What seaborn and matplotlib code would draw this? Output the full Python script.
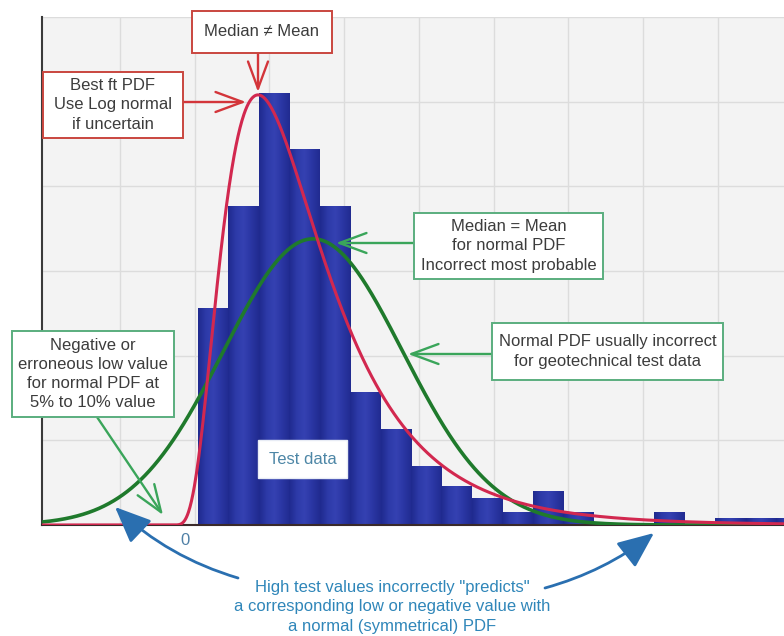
import numpy as np
import pandas as pd
import matplotlib
matplotlib.use("Agg")
import matplotlib.pyplot as plt
from matplotlib.patches import Rectangle
from matplotlib.colors import LinearSegmentedColormap
import seaborn as sns

# ---- Test data histogram (bin heights in grid units) ----
bin_start = 0.174
bin_width = 0.407
bar_heights = [2.56, 3.76, 5.10, 4.43, 3.76, 1.57, 1.13, 0.69, 0.46, 0.31,
               0.15, 0.39, 0.15, 0.0, 0.0, 0.15, 0.0, 0.08, 0.08, 0.08]

# ---- Fitted probability density functions ----
lognorm_loc = -0.227        # shift of the log-normal
lognorm_mode_offset = 1.204 # mode measured from the shift
lognorm_shape = 0.56
lognorm_peak = 5.08

normal_mean = 1.712
normal_sd = 1.2
normal_peak = 3.38

x_ticks = [0]
x_tick_labels = ["0"]

# ---- Styling ----
sns.set_style("white")
plt.rcParams["font.family"] = ["Liberation Sans", "DejaVu Sans"]

W, H = 784, 636
fig = plt.figure(figsize=(W / 100, H / 100), dpi=100)
ax = fig.add_axes([42 / W, (H - 525) / H, (784 - 42) / W, (525 - 17) / H])
ax.set_facecolor("#f3f3f3")
XMIN, XMAX = -1.913, 8.013
YMIN, YMAX = 0, 6


def P(px, py):
    """Pixel position (origin top-left) to figure fraction."""
    return (px / W, 1 - py / H)


# histogram bars
edges = [bin_start + bin_width * i for i in range(len(bar_heights) + 1)]
hist_df = pd.DataFrame({
    "value": [(a + b) / 2 for a, b in zip(edges[:-1], edges[1:])],
    "height": bar_heights,
})
sns.histplot(data=hist_df, x="value", weights="height", bins=edges,
             stat="count", color="#2a37a2", alpha=1, linewidth=0, ax=ax, zorder=2)

# cylinder-like shading on each bar
bar_cmap = LinearSegmentedColormap.from_list(
    "bar", ["#1f2a8e", "#2d3aa8", "#3541b2", "#2a36a3", "#212b90"])
grad = np.linspace(0, 1, 64).reshape(1, -1)
for patch in list(ax.patches):
    x, w, h = patch.get_x(), patch.get_width(), patch.get_height()
    if h <= 0:
        continue
    ax.imshow(grad, extent=[x, x + w, 0, h], cmap=bar_cmap, aspect="auto",
              interpolation="bicubic", zorder=2.1)

# fitted curves
xs = np.linspace(XMIN, XMAX, 1500)


def lognormal_curve(x):
    u = np.clip(x - lognorm_loc, 1e-9, None)
    mu = np.log(lognorm_mode_offset) + lognorm_shape ** 2
    s = lognorm_shape

    def pdf(v):
        return np.exp(-(np.log(v) - mu) ** 2 / (2 * s ** 2)) / (v * s * np.sqrt(2 * np.pi))

    y = pdf(u) / pdf(lognorm_mode_offset) * lognorm_peak
    y[x <= lognorm_loc] = 0
    return y


def normal_curve(x):
    return normal_peak * np.exp(-(x - normal_mean) ** 2 / (2 * normal_sd ** 2))


sns.lineplot(x=xs, y=normal_curve(xs), color="#1f7a2c", lw=2.6,
             estimator=None, sort=False, ax=ax, zorder=4)
sns.lineplot(x=xs, y=lognormal_curve(xs), color="#d2284f", lw=2.2,
             estimator=None, sort=False, ax=ax, zorder=5)

# axes, grid
ax.set_xlim(XMIN, XMAX)
ax.set_ylim(YMIN, YMAX)
ax.set_xticks(x_ticks)
ax.set_xticklabels(x_tick_labels)
ax.set_xticks(np.arange(-0.87, XMAX, 1.0), minor=True)
ax.set_yticks(np.arange(0, 7, 1))
ax.set_yticklabels([])
ax.tick_params(axis="both", which="both", length=0)
ax.tick_params(axis="x", which="major", pad=6, labelsize=12, labelcolor="#4f80a6")
ax.grid(False)
ax.grid(True, which="minor", axis="x", color="#dcdcdc", lw=1, zorder=0)
ax.grid(True, which="major", axis="y", color="#dcdcdc", lw=1, zorder=0)
ax.set_axisbelow(True)
ax.set_xlabel("")
ax.set_ylabel("")
for side in ["top", "right"]:
    ax.spines[side].set_visible(False)
ax.spines["left"].set_color("#3a3a3a")
ax.spines["left"].set_linewidth(1.5)
ax.spines["bottom"].set_color("#3a2a2a")
ax.spines["bottom"].set_linewidth(1.5)

# ---- Annotations ----
RED_EDGE = "#c9463f"
RED_ARROW = "#d3353a"
GREEN_EDGE = "#5aae7e"
GREEN_ARROW = "#3aa55a"
TEXT = "#3c3c3c"
BLUE = "#2f86b9"
LINESP = 1.36


def box(x0, y0, x1, y1, edge, label, color=TEXT, lw=1.4):
    fig.add_artist(Rectangle(P(x0, y1), (x1 - x0) / W, (y1 - y0) / H,
                             transform=fig.transFigure, facecolor="white",
                             edgecolor=edge, lw=lw, zorder=10))
    cx, cy = P((x0 + x1) / 2, (y0 + y1) / 2)
    fig.text(cx, cy, label, ha="center", va="center", fontsize=12,
             color=color, zorder=11, linespacing=LINESP)


def arrow(start, end, color, style, lw=1.7, scale=30, rad=0.0):
    ax.annotate("", xy=P(*end), xycoords="figure fraction",
                xytext=P(*start), textcoords="figure fraction",
                arrowprops=dict(arrowstyle=style, color=color, lw=lw,
                                shrinkA=0, shrinkB=0, mutation_scale=scale,
                                connectionstyle=f"arc3,rad={rad}"),
                annotation_clip=False, zorder=12)


open_head = "->,head_length=0.65,head_width=0.24"
solid_head = "-|>,head_length=0.7,head_width=0.3"

box(192, 11, 332, 53, RED_EDGE, "Median \u2260 Mean")
arrow((258, 53), (258, 92), RED_ARROW, open_head)

box(43, 72, 183, 138, RED_EDGE, "Best ft PDF\nUse Log normal\nif uncertain")
arrow((183, 102), (246, 102), RED_ARROW, open_head)

box(414, 213, 603, 279, GREEN_EDGE,
    "Median = Mean\nfor normal PDF\nIncorrect most probable")
arrow((414, 243), (336, 243), GREEN_ARROW, open_head)

box(492, 323, 723, 380, GREEN_EDGE,
    "Normal PDF usually incorrect\nfor geotechnical test data")
arrow((492, 354), (408, 354), GREEN_ARROW, open_head)

box(12, 331, 174, 417, GREEN_EDGE,
    "Negative or\nerroneous low value\nfor normal PDF at\n5% to 10% value")
arrow((97, 417), (163, 515), GREEN_ARROW, open_head)

box(258, 440, 347, 478, "#e8ecf5", "Test data", color="#4d86a6", lw=1.0)

fig.text(*P(392, 607),
         "High test values incorrectly \"predicts\"\n"
         "a corresponding low or negative value with\n"
         "a normal (symmetrical) PDF",
         ha="center", va="center", fontsize=12, color=BLUE, linespacing=LINESP)

arrow((238, 578), (115, 507), "#2a6fb0", solid_head, lw=2.0, scale=32, rad=-0.12)
arrow((545, 588), (654, 533), "#2a6fb0", solid_head, lw=2.0, scale=32, rad=0.1)

fig.savefig("out.png", dpi=100, facecolor="white")
